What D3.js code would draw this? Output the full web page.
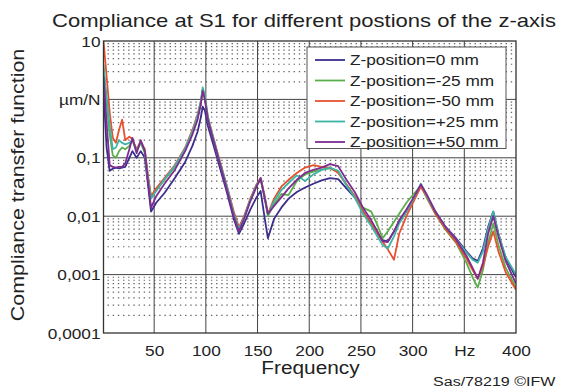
<!DOCTYPE html>
<html>
<head>
<meta charset="utf-8">
<script src="https://cdn.jsdelivr.net/npm/d3@7"></script>
<style>
  body { margin: 0; background: #fff; }
  text { font-family: "Liberation Sans", Arial, Helvetica, sans-serif; fill: #222; }
</style>
</head>
<body>
<script>
// frequency points (Hz), shared by all series
const freq = [1,4,7,10,13,16,19,22,26,29,33,37,41,44,47,52,60,70,80,87,92,95,97,99,102,106,112,120,127,132,137,143,149,153,157,160,166,173,180,188,196,204,212,220,228,236,244,252,260,266,271,276,282,287,294,301,308,314,322,332,342,352,358,363,368,373,378,383,390,400];

// compliance (µm/N)
const zPos0 = [1.5,0.15,0.06,0.065,0.068,0.066,0.068,0.07,0.1,0.13,0.1,0.13,0.1,0.035,0.012,0.017,0.025,0.045,0.085,0.16,0.28,0.48,0.75,0.65,0.35,0.2,0.085,0.027,0.009,0.005,0.0075,0.013,0.021,0.027,0.009,0.0042,0.009,0.014,0.02,0.026,0.031,0.036,0.041,0.045,0.043,0.03,0.021,0.012,0.0075,0.005,0.0039,0.0037,0.0055,0.008,0.012,0.02,0.033,0.022,0.012,0.0065,0.0042,0.0025,0.0019,0.0017,0.0028,0.0065,0.012,0.005,0.0019,0.0009];
const zNeg25 = [3.2,0.9,0.25,0.11,0.1,0.13,0.15,0.14,0.16,0.2,0.13,0.18,0.12,0.045,0.021,0.028,0.042,0.07,0.14,0.27,0.5,0.85,1.45,1.05,0.45,0.25,0.1,0.033,0.011,0.0055,0.0095,0.019,0.033,0.042,0.02,0.01,0.016,0.024,0.023,0.04,0.052,0.058,0.063,0.066,0.058,0.035,0.022,0.014,0.012,0.007,0.0042,0.0055,0.008,0.011,0.017,0.024,0.033,0.02,0.011,0.0058,0.0035,0.0016,0.0009,0.0006,0.0012,0.0035,0.0075,0.0032,0.0013,0.0006];
const zNeg50 = [10,2.5,0.6,0.22,0.18,0.3,0.45,0.2,0.23,0.21,0.14,0.19,0.14,0.05,0.022,0.03,0.045,0.075,0.15,0.3,0.55,0.9,1.5,1.1,0.5,0.27,0.11,0.035,0.012,0.0065,0.01,0.02,0.035,0.045,0.022,0.011,0.02,0.032,0.042,0.055,0.068,0.075,0.07,0.068,0.055,0.035,0.022,0.012,0.0075,0.005,0.0037,0.0027,0.0018,0.005,0.01,0.018,0.032,0.021,0.011,0.006,0.0036,0.0019,0.0012,0.00085,0.0014,0.003,0.0055,0.0025,0.0011,0.00055];
const zPos25 = [4,1.1,0.35,0.14,0.15,0.2,0.18,0.17,0.18,0.2,0.13,0.19,0.13,0.045,0.02,0.027,0.043,0.072,0.145,0.28,0.52,0.9,1.6,1.15,0.5,0.26,0.105,0.034,0.011,0.006,0.0095,0.019,0.034,0.044,0.021,0.0105,0.018,0.028,0.037,0.05,0.04,0.052,0.062,0.068,0.06,0.034,0.021,0.011,0.0068,0.0045,0.0032,0.0028,0.0045,0.0075,0.012,0.02,0.036,0.022,0.012,0.0065,0.004,0.0024,0.0018,0.0016,0.0025,0.006,0.012,0.005,0.002,0.001];
const zPos50 = [2.5,0.4,0.075,0.07,0.068,0.07,0.07,0.08,0.14,0.22,0.12,0.2,0.13,0.04,0.014,0.022,0.036,0.062,0.13,0.25,0.45,0.8,1.4,1.0,0.45,0.24,0.1,0.03,0.01,0.0055,0.009,0.018,0.032,0.045,0.02,0.011,0.015,0.021,0.03,0.042,0.055,0.062,0.068,0.078,0.072,0.042,0.026,0.014,0.0085,0.0055,0.0037,0.0036,0.0055,0.0085,0.013,0.021,0.035,0.023,0.012,0.0065,0.004,0.0021,0.0013,0.00085,0.0016,0.005,0.01,0.0045,0.0017,0.0007];

const legendNames = ["Z-position=0 mm","Z-position=-25 mm","Z-position=-50 mm","Z-position=+25 mm","Z-position=+50 mm"];
const seriesColors = ["#3b2e8c","#5cae4c","#e8512e","#3db5a6","#7e2c90"];

const xTickVals = [50,100,150,200,250,300,350,400];
const xTickLabels = ["50","100","150","200","250","300","Hz","400"];
const yTickVals = [10,1,0.1,0.01,0.001,0.0001];
const yTickLabels = ["10","µm/N","0,1","0,01","0,001","0,0001"];

const width = 563, height = 392;
const plotL = 103.5, plotR = 516, plotT = 41, plotB = 333;
const SX = 1.19; // the original lettering is set wide

const svg = d3.select("body").append("svg")
  .attr("width", width)
  .attr("height", height);

svg.append("rect").attr("width", width).attr("height", height).attr("fill", "#fff");

const x = d3.scaleLinear().domain([1, 400]).range([plotL, plotR]);
const y = d3.scaleLog().domain([0.0001, 10]).range([plotB, plotT]);

// minor (dotted) horizontal grid
const minors = [];
for (let e = -4; e < 1; e++) {
  for (let m = 2; m <= 9; m++) minors.push(m * Math.pow(10, e));
}
svg.append("g").selectAll("line")
  .data(minors)
  .enter().append("line")
  .attr("x1", plotL).attr("x2", plotR)
  .attr("y1", d => y(d)).attr("y2", d => y(d))
  .attr("stroke", "#666")
  .attr("stroke-width", 1.2)
  .attr("stroke-dasharray", "1.4,3.77")
  .attr("stroke-dashoffset", -4);

// major grid
svg.append("g").selectAll("line")
  .data(yTickVals.slice(1, -1))
  .enter().append("line")
  .attr("x1", plotL).attr("x2", plotR)
  .attr("y1", d => y(d)).attr("y2", d => y(d))
  .attr("stroke", "#444").attr("stroke-width", 1);
svg.append("g").selectAll("line")
  .data(xTickVals.slice(0, -1))
  .enter().append("line")
  .attr("y1", plotT).attr("y2", plotB)
  .attr("x1", d => x(d)).attr("x2", d => x(d))
  .attr("stroke", "#444").attr("stroke-width", 1);

// curves
svg.append("clipPath").attr("id", "plot")
  .append("rect").attr("x", plotL).attr("y", plotT).attr("width", plotR - plotL).attr("height", plotB - plotT);

const line = d3.line()
  .x((d, i) => x(freq[i]))
  .y(d => y(d));

const series = [zPos0, zNeg25, zNeg50, zPos25, zPos50];
const drawOrder = [0, 1, 2, 3, 4];
svg.append("g").attr("clip-path", "url(#plot)")
  .selectAll("path")
  .data(drawOrder)
  .enter().append("path")
  .attr("fill", "none")
  .attr("stroke", i => seriesColors[i])
  .attr("stroke-width", 1.8)
  .attr("stroke-linejoin", "round")
  .attr("d", i => line(series[i]));

// frame
svg.append("rect")
  .attr("x", plotL).attr("y", plotT)
  .attr("width", plotR - plotL).attr("height", plotB - plotT)
  .attr("fill", "none").attr("stroke", "#333").attr("stroke-width", 1.3);

// axes (labels only)
const yAxis = svg.append("g")
  .attr("transform", `translate(${plotL},0)`)
  .call(d3.axisLeft(y).tickValues(yTickVals).tickSize(0)
    .tickFormat((d, i) => yTickLabels[i]));
yAxis.select(".domain").remove();
yAxis.selectAll("text")
  .attr("x", null).attr("dy", null)
  .attr("transform", `translate(-3,5) scale(${SX},1)`)
  .style("font-size", "14.5px")
  .style("font-family", "Liberation Sans, Arial, sans-serif")
  .attr("fill", "#222");

const xAxis = svg.append("g")
  .attr("transform", `translate(0,${plotB})`)
  .call(d3.axisBottom(x).tickValues(xTickVals).tickSize(0)
    .tickFormat((d, i) => xTickLabels[i]));
xAxis.select(".domain").remove();
xAxis.selectAll("text")
  .attr("y", null).attr("dy", null)
  .attr("transform", `translate(0,22.5) scale(${SX},1)`)
  .style("font-size", "14.5px")
  .style("font-family", "Liberation Sans, Arial, sans-serif")
  .attr("fill", "#222");

function label(txt, tx, ty, size, anchor, rot, sx) {
  svg.append("text")
    .attr("transform", `translate(${tx},${ty})` + (rot ? ` rotate(${rot})` : "") + ` scale(${sx || SX},1)`)
    .attr("text-anchor", anchor)
    .style("font-size", size + "px")
    .text(txt);
}

label("Compliance at S1 for different postions of the z-axis", 52, 27, 19, "start", 0, 1.16);
label("Compliance transfer function", 24, 185, 18, "middle", -90);
label("Frequency", 310.5, 374, 17.5, "middle");
label("Sas/78219 ©IFW", 433, 386, 13.5, "start");

// legend
const lg = svg.append("g");
lg.append("rect")
  .attr("x", 307).attr("y", 47)
  .attr("width", 199).attr("height", 101.5)
  .attr("fill", "#fff").attr("stroke", "#555").attr("stroke-width", 1);
const rows = lg.selectAll("g.row")
  .data(legendNames)
  .enter().append("g")
  .attr("class", "row")
  .attr("transform", (d, i) => `translate(0,${60 + i * 20.5})`);
rows.append("line")
  .attr("x1", 315).attr("x2", 345)
  .attr("stroke", (d, i) => seriesColors[i])
  .attr("stroke-width", 1.8);
rows.append("text")
  .attr("transform", `translate(350,5) scale(${SX},1)`)
  .style("font-size", "14.5px")
  .text(d => d);
</script>
</body>
</html>
